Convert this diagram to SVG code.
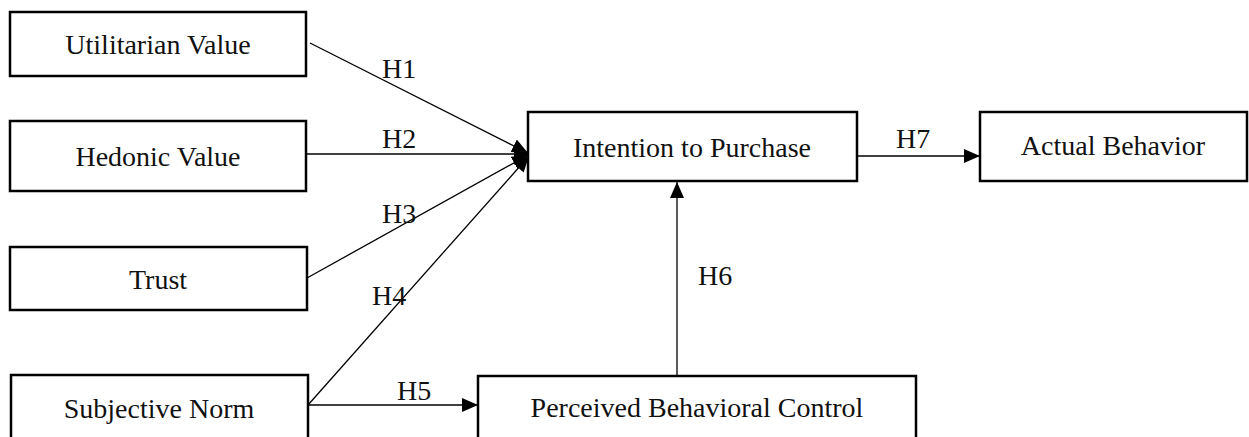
<svg xmlns="http://www.w3.org/2000/svg" width="1249" height="437" viewBox="0 0 1249 437">
<style>
.box{fill:#fff;stroke:#000;stroke-width:2.5}
.t{font-family:"Liberation Serif","DejaVu Serif",serif;font-size:28px;fill:#111;text-anchor:middle}
.l{font-family:"Liberation Serif","DejaVu Serif",serif;font-size:28px;fill:#111}
.c{stroke:#000;stroke-width:1.3;fill:none}
</style>
<defs>
<marker id="ah" markerUnits="userSpaceOnUse" markerWidth="18" markerHeight="14" refX="16" refY="7" orient="auto">
<path d="M0,0 L16,7 L0,14 Z" fill="#000"/>
</marker>
</defs>
<rect width="1249" height="437" fill="#fff"/>
<g id="connectors">
<line class="c" x1="310" y1="43" x2="528" y2="153" marker-end="url(#ah)"/>
<line class="c" x1="307" y1="154" x2="530" y2="154" marker-end="url(#ah)"/>
<line class="c" x1="307" y1="278" x2="528" y2="155" marker-end="url(#ah)"/>
<line class="c" x1="308" y1="405" x2="529" y2="156" marker-end="url(#ah)"/>
<line class="c" x1="308" y1="405" x2="478" y2="405" marker-end="url(#ah)"/>
<line class="c" x1="677" y1="376" x2="677" y2="182" stroke="#444" marker-end="url(#ah)"/>
<line class="c" x1="857" y1="156" x2="980" y2="156" marker-end="url(#ah)"/>
<text class="l" x="382" y="78">H1</text>
<text class="l" x="382" y="148">H2</text>
<text class="l" x="382" y="223">H3</text>
<text class="l" x="372" y="305">H4</text>
<text class="l" x="397" y="400">H5</text>
<text class="l" x="698" y="285">H6</text>
<text class="l" x="896" y="148">H7</text>
</g>
<g id="utilitarian"><rect class="box" x="10" y="12" width="296" height="64"/><text class="t" x="158" y="54">Utilitarian Value</text></g>
<g id="hedonic"><rect class="box" x="10" y="121" width="296" height="70"/><text class="t" x="158" y="166">Hedonic Value</text></g>
<g id="trust"><rect class="box" x="10" y="247" width="297" height="63"/><text class="t" x="158" y="289">Trust</text></g>
<g id="subjective"><rect class="box" x="11" y="375" width="297" height="70"/><text class="t" x="159" y="418">Subjective Norm</text></g>
<g id="intention"><rect class="box" x="528" y="112" width="329" height="69"/><text class="t" x="692" y="157">Intention to Purchase</text></g>
<g id="actual"><rect class="box" x="980" y="112" width="267" height="69"/><text class="t" x="1113" y="155">Actual Behavior</text></g>
<g id="perceived"><rect class="box" x="478" y="376" width="438" height="70"/><text class="t" x="697" y="417">Perceived Behavioral Control</text></g>
</svg>
